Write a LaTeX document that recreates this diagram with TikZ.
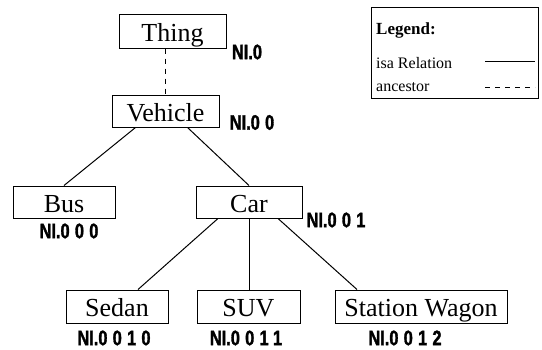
\documentclass[tikz,border=0pt]{standalone}
\usepackage{fontspec}
\setmainfont{Liberation Serif}
\newfontfamily\nifont{Liberation Sans}[FakeStretch=0.78,FakeBold=1.5]
\begin{document}
\begin{tikzpicture}[x=1pt,y=-1pt,
  box/.style={draw, line width=1pt, minimum height=32pt, inner sep=0pt,
    text height=20pt, text depth=0pt, font=\fontsize{26}{28}\selectfont},
  ni/.style={inner sep=0pt, font=\nifont\bfseries\fontsize{21}{23}\selectfont},
  link/.style={line width=1pt},
  anc/.style={line width=1pt, dash pattern=on 5pt off 5pt},
  legtext/.style={anchor=west, inner sep=0pt, font=\fontsize{16}{18}\selectfont},
  legframe/.style={draw, line width=1pt, inner sep=0pt}
]
\useasboundingbox (0,0) rectangle (542,349);

% tree nodes
\node[box, minimum width=107pt, minimum height=34pt] (thing) at (172.5,31) {Thing};
\node[box, minimum width=107pt] (vehicle) at (165.5,111) {Vehicle};
\node[box, minimum width=102pt] (bus) at (64,202) {Bus};
\node[box, minimum width=106pt] (car) at (249,202) {Car};
\node[box, minimum width=102pt, minimum height=33pt] (sedan) at (117,306.5) {Sedan};
\node[box, minimum width=103pt, minimum height=33pt] (suv) at (248.5,306.5) {SUV};
\node[box, minimum width=172pt, minimum height=33pt] (wagon) at (421,306.5) {Station Wagon};

% NI labels
\node[ni] (ni0) at (247,52) {NI.0};
\node[ni] (ni00) at (252,122.5) {NI.{\addfontfeature{LetterSpace=25}00}};
\node[ni] (ni000) at (69,231) {NI.{\addfontfeature{LetterSpace=25}000}};
\node[ni] (ni001) at (336,220) {NI.{\addfontfeature{LetterSpace=25}001}};
\node[ni] (ni0010) at (114,338) {NI.{\addfontfeature{LetterSpace=25}0010}};
\node[ni] (ni0011) at (246,338) {NI.{\addfontfeature{LetterSpace=25}0011}};
\node[ni] (ni0012) at (405,338) {NI.{\addfontfeature{LetterSpace=25}0012}};

% connectors
\draw[anc] (thing.south -| vehicle.north) -- (vehicle.north);
\draw[link] ([xshift=-30pt]vehicle.south) -- (bus.north);
\draw[link] ([xshift=22pt]vehicle.south) -- (car.north);
\draw[link] ([xshift=-31pt]car.south) -- ([xshift=21pt]sedan.north);
\draw[link] (car.south) -- (car.south |- suv.north);
\draw[link] ([xshift=29pt]car.south) -- ([xshift=-64pt]wagon.north);

% legend
\node[legframe, minimum width=167pt, minimum height=91pt] (legend) at (454.5,52.5) {};
\node[legtext, font=\bfseries\fontsize{17}{19}\selectfont] (legtitle) at (376,30) {Legend:};
\node[legtext] (isa) at (376,63) {isa Relation};
\node[legtext] (ancestor) at (376,87) {ancestor};
\coordinate (isaA) at (485,61);
\coordinate (isaB) at (535,61);
\coordinate (ancA) at (485,87);
\coordinate (ancB) at (535,87);
\draw[link] (isaA) -- (isaB);
\draw[anc] (ancA) -- (ancB);
\end{tikzpicture}
\end{document}
